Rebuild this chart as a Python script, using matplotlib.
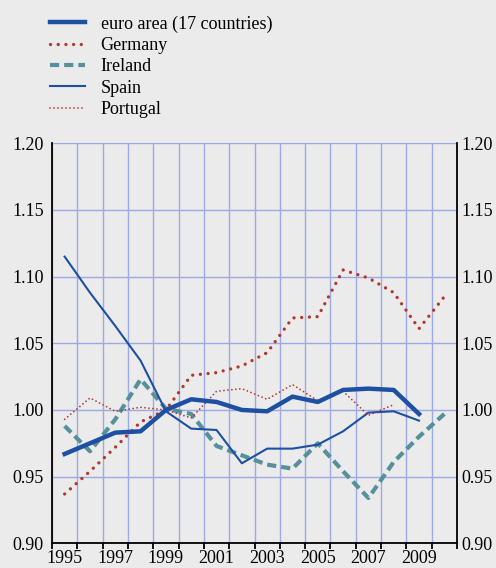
import matplotlib
matplotlib.use("Agg")
import matplotlib.pyplot as plt
import matplotlib.transforms as mtransforms
import numpy as np

plt.rcParams["font.family"] = ["Liberation Serif", "DejaVu Serif"]

# --- data (index) ---
years = list(range(1995, 2011))
euro_area = [0.967, 0.975, 0.983, 0.984, 1.000, 1.008, 1.006, 1.000, 0.999, 1.010, 1.006, 1.015, 1.016, 1.015, 0.997]
germany = [0.937, 0.954, 0.972, 0.991, 1.000, 1.026, 1.028, 1.033, 1.043, 1.069, 1.070, 1.105, 1.099, 1.088, 1.061, 1.085]
ireland = [0.988, 0.969, 0.993, 1.023, 1.001, 0.997, 0.973, 0.966, 0.959, 0.956, 0.975, 0.954, 0.934, 0.961, 0.980, 0.997]
spain = [1.115, 1.088, 1.063, 1.037, 0.999, 0.986, 0.985, 0.960, 0.971, 0.971, 0.974, 0.984, 0.998, 0.999, 0.992]
portugal = [0.993, 1.009, 0.999, 1.002, 1.000, 0.994, 1.014, 1.016, 1.008, 1.019, 1.007, 1.014, 0.996, 1.004]

series_labels = ["euro area (17 countries)", "Germany", "Ireland", "Spain", "Portugal"]
yticks = [0.90, 0.95, 1.00, 1.05, 1.10, 1.15, 1.20]

BG = "#ebebeb"
BLUE = "#1d50a2"
RED = "#b2372d"
TEAL = "#55909b"
GRID = "#9ea9e3"

fig = plt.figure(figsize=(4.96, 5.68), dpi=100, facecolor=BG)
ax = fig.add_axes([52 / 496, 1 - 543.3 / 568, (457 - 52) / 496, 400 / 568])
ax.set_facecolor(BG)

x = np.arange(len(years))

ax.plot(x[:len(euro_area)], euro_area, color=BLUE, lw=3.2, label=series_labels[0], zorder=5)
ax.plot(x[:len(germany)], germany, color=RED, lw=2.4, linestyle=(0, (0.01, 2.3)),
        dash_capstyle="round", label=series_labels[1], zorder=4)
ax.plot(x[:len(ireland)], ireland, color=TEAL, lw=3.0, linestyle=(0, (2.2, 1.2)),
        label=series_labels[2], zorder=3)
ax.plot(x[:len(spain)], spain, color=BLUE, lw=1.5, label=series_labels[3], zorder=4)
ax.plot(x[:len(portugal)], portugal, color=RED, lw=1.3, linestyle=(0, (0.01, 2.2)),
        dash_capstyle="round", label=series_labels[4], zorder=4)

ax.set_xlim(-0.5, len(years) - 0.5)
ax.set_ylim(0.90, 1.20)

# year labels at bin centres, tick marks and grid at bin edges
ax.set_xticks(x[::2])
ax.set_xticklabels([str(y) for y in years[::2]])
ax.set_xticks(np.arange(-0.5, len(years)), minor=True)
ax.tick_params(axis="x", which="major", length=0, pad=5, labelsize=13)
ax.tick_params(axis="x", which="minor", length=4, width=1.3, direction="out", color="black")
ax.xaxis.grid(True, which="minor", color=GRID, lw=1.0)

ax.set_yticks(yticks)
ax.set_yticklabels([f"{v:.2f}" for v in yticks])
ax.tick_params(axis="y", length=0, pad=6, labelsize=13, labelright=True)
ax.yaxis.grid(True, color=GRID, lw=1.0)
ax.set_axisbelow(True)

ax.spines["top"].set_visible(False)
for s in ["left", "right", "bottom"]:
    ax.spines[s].set_color("black")
    ax.spines[s].set_linewidth(1.3)

# right-hand labels sit closer to the spine than the left ones
shift = mtransforms.ScaledTranslation(3 / 72, 0, fig.dpi_scale_trans)
for t in ax.yaxis.get_major_ticks():
    t.label2.set_transform(ax.get_yaxis_transform(which="tick2") + shift)

fig.legend(loc="upper left", bbox_to_anchor=(50 / 496, 1 - 15.5 / 568), frameon=False,
           fontsize=13, handlelength=1.95, handletextpad=0.85, labelspacing=0.24,
           borderpad=0, borderaxespad=0)

fig.savefig("out.png", dpi=100, facecolor=BG)
